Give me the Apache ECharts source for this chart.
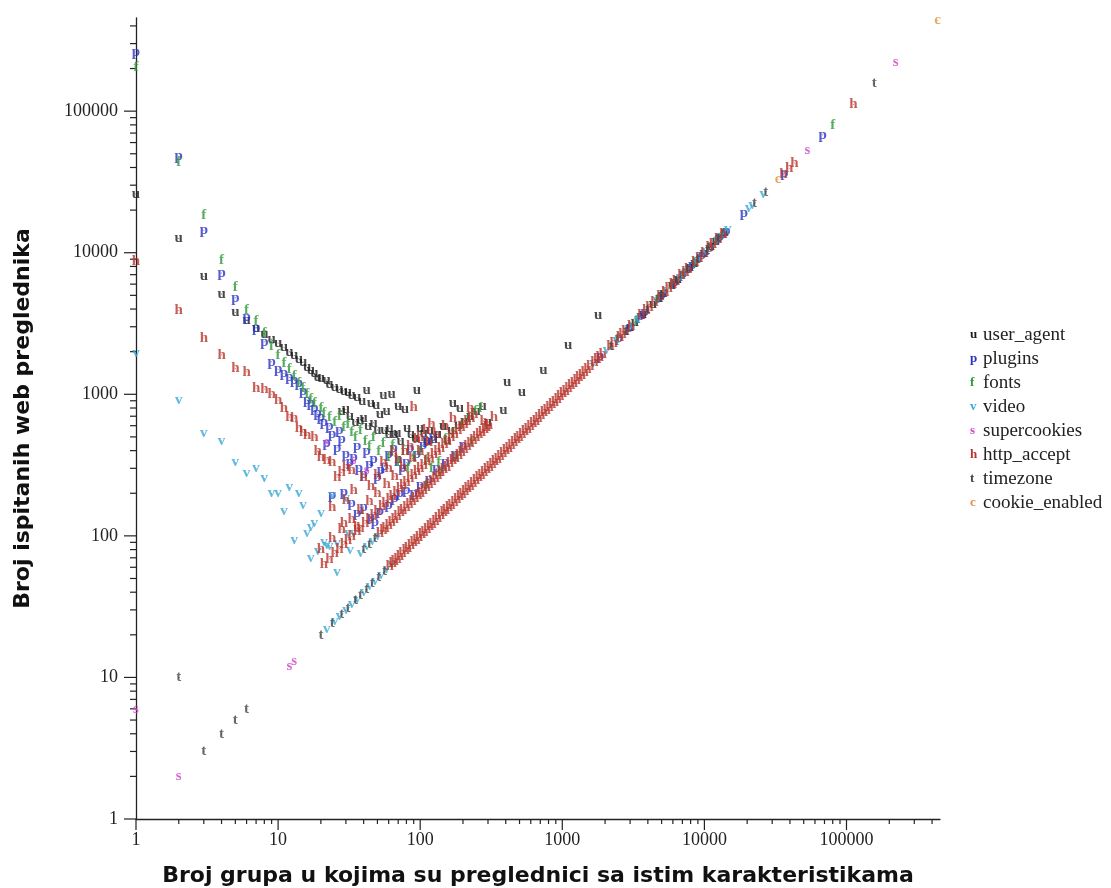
<!DOCTYPE html>
<html><head><meta charset="utf-8">
<script src="https://cdn.jsdelivr.net/npm/echarts@6/dist/echarts.min.js"></script>
<style>html,body{margin:0;padding:0;background:#fff}#c{width:1111px;height:888px}</style>
</head><body><div id="c"></div>
<script>
const seriesNames = ['user_agent','plugins','fonts','video','supercookies','http_accept','timezone','cookie_enabled'];
const letters = ['u','p','f','v','s','h','t','c'];
const colors = ['#1c1c1c','#2b33c4','#2f9a3a','#3aa8d6','#d048c8','#b8352c','#454545','#e0913f'];
const tickLabels = ['1','10','100','1000','10000','100000'];
const xTitle = 'Broj grupa u kojima su preglednici sa istim karakteristikama';
const yTitle = 'Broj ispitanih web preglednika';

const userAgent = [[1,26000],[2,12600],[3,6800],[4,5100],[5,3800],[6,3350],[7,2950],[8,2650],[9,2450],[10,2300],[11,2150],[12,2000],[13,1880],[14,1780],[15,1690],[16,1560],[17,1470],[18,1400],[19,1330],[20,1300],[22,1260],[23,1180],[25,1130],[27,1080],[29,1060],[31,1040],[33,990],[36,950],[39,900],[42,1070],[45,860],[49,840],[55,990],[58,760],[63,1000],[70,820],[78,780],[95,1070],[170,870],[190,800],
[28,760],[30,780],[32,700],[35,640],[38,660],[40,680],[43,600],[47,630],[50,560],[52,730],[56,560],[60,520],[61,575],[66,520],[69,530],[73,470],[81,575],[86,520],[92,490],[100,580],[106,530],[112,470],[117,560],[125,480],[133,520],[145,600],[155,475],[165,560],[185,610],[205,650],[225,700],[250,760],[275,820],
[300,640],[385,775],[410,1220],[520,1035],[735,1480],[1100,2220],[1790,3630],
[3000,3000],[3250,3250],[3700,3700],[4350,4350],[4800,4800],[5150,5150],[5900,5900],[6500,6500],[7900,7900],[8500,8500],[9900,9900],[11100,11100],[12000,12000],[13900,13900]];

const plugins = [[1,262000],[2,48000],[3,14400],[4,7200],[5,4800],[6,3500],[7,2950],[8,2350],[9,1700],[10,1500],[11,1400],[12,1320],[13,1250],[14,1200],[15,1060],[16,910],[17,860],[18,800],[19,740],[20,690],[21,640],[22,450],[23,600],[24,520],[26,420],[27,560],[28,480],[30,380],[32,330],[34,360],[36,430],[37,300],[40,275],[42,400],[44,320],[47,350],[50,260],[53,290],[56,310],[60,380],[65,420],[70,350],[75,300],[80,330],[85,420],[95,380],[105,440],[111,475],[123,500],
[24,195],[29,205],[33,170],[36,145],[40,160],[45,135],[48,125],[52,150],[60,165],[66,185],[72,200],[80,210],
[90,200],[100,230],[115,250],[130,300],[150,330],[175,380],[200,440],
[1850,1850],[2500,2500],[2950,2950],[3550,3550],[3800,3800],[5000,5000],[6200,6200],[7050,7050],[8200,8200],[9600,9600],[10800,10800],[12800,12800],[14300,14300],[19000,19000],[36500,36500],[68000,68000]];

const fonts = [[1,205000],[2,44000],[3,18500],[4,8900],[5,5700],[6,3900],[7,3300],[8,2700],[9,2200],[10,1900],[11,1650],[12,1500],[13,1350],[14,1200],[15,1100],[16,1000],[17,930],[18,870],[20,800],[21,740],[23,690],[25,640],[27,700],[29,590],[31,620],[33,540],[35,500],[38,560],[41,470],[44,430],[47,500],[51,400],[55,450],[60,360],[64,440],[70,330],[76,400],[82,300],[90,360],[100,400],[110,340],[120,300],[135,330],
[150,480],[170,530],[195,610],[220,680],[245,760],[265,800],
[110,230],[140,280],[180,360],[230,460],
[2450,2450],[3300,3300],[4700,4700],[5900,5900],[7000,7000],[8500,8500],[10500,10500],[12000,12000],[13300,13300],[80000,80000]];

const video = [[1,1950],[2,910],[3,530],[4,470],[5,330],[6,277],[7,300],[8,255],[9,200],[10,200],[11,150],[12,220],[13,93],[14,200],[15,165],[16,105],[17,115],[18,123],[20,145],[21,90],[23,85],[24,195],[26,89],[30,185],[31,105],
[17,70],[19,78],[22,86],[26,55],
[32,79],[34,104],[38,76],[42,84],[46,92],[50,100],
[22,22],[25,25],[27,27],[30,30],[33,33],[36,36],[40,40],[44,44],[48,48],[53,53],[58,58],[63,63],[1650,1650],[2050,2050],[2400,2400],[3100,3100],[3400,3400],[4600,4600],[5400,5400],[6700,6700],[7400,7400],[8800,8800],[9300,9300],[10200,10200],[11300,11300],[12200,12200],[13000,13000],[14600,14600],[20500,20500],[21700,21700],[26000,26000]];

const supercookies = [[1,6],[2,2],[12,12],[13,13],[22,462],[34,340],[42,290],[53000,53000],[222000,222000]];

const httpAccept = [[1,8700],[2,3900],[3,2500],[4,1900],[5,1530],[6,1440],[7,1110],[8,1090],[9,1000],[10,910],[11,800],[12,690],[13,680],[14,580],[15,540],[16,515],[18,500],[19,400],[20,360],[22,345],[24,330],[26,260],[28,280],[30,305],[33,290],[29,123],[36,115],
[90,810],[225,800],[330,690],[280,650],
[24,160],[30,180],[34,210],[40,260],[45,225],[50,270],[55,330],[60,300],[65,390],[70,350],[78,400],[85,430],[95,480],[100,500],[110,560],[120,620],
[20,80],[24,96],[28,112],[33,132],[38,152],[44,176],[50,200],[58,232],[66,264],[76,304],[88,352],[100,400],[115,460],[130,520],[150,600],[170,680],
[21,63],[23,69],[25,75],[27,81],[29,87],[31,93],[33,99],[36,108],[38,114],[41,123],[44,132],[47,141],[50,150],[54,162],[57,171],[61,183],[64,192],[68,204],[72,216],[76,228],[80,240],[85,255],[90,270],[95,285],[100,300],[106,318],[112,336],[118,354],[125,375],[132,396],[140,420],[148,444],[156,468],[165,495],[175,525],[185,555],[195,585],[205,615],[215,645],[228,684],[240,720],
[52,104],[55,110],[57,114],[60,120],[63,126],[66,132],[69,138],[73,146],[76,152],[80,160],[84,168],[88,176],[92,184],[97,194],[101,202],[106,212],[111,222],[116,232],[122,244],[128,256],[134,268],[140,280],[147,294],[154,308],[162,324],[170,340],[178,356],[187,374],[196,392],[205,410],[215,430],[226,452],[237,474],[248,496],[260,520],[272,544],[285,570],[295,590],[305,610],
[61,61],[64,64],[66,66],[69,69],[72,72],[75,75],[79,79],[82,82],[86,86],[90,90],[94,94],[98,98],[103,103],[107,107],[112,112],[117,117],[122,122],[128,128],[133,133],[140,140],[146,146],[152,152],[159,159],[166,166],[174,174],[182,182],[190,190],[198,198],[207,207],[216,216],[226,226],[236,236],[247,247],[258,258],[270,270],[282,282],[295,295],[308,308],[322,322],[336,336],[351,351],[367,367],[384,384],[401,401],[419,419],[438,438],[458,458],[479,479],[500,500],[522,522],[546,546],[570,570],[596,596],[623,623],[651,651],[680,680],[711,711],[743,743],[776,776],[811,811],[848,848],[886,886],[926,926],[968,968],[1011,1011],[1057,1057],[1104,1104],[1154,1154],[1206,1206],[1260,1260],[1317,1317],[1376,1376],[1438,1438],[1503,1503],[1570,1570],[1680,1680],[1760,1760],[1830,1830],[1920,1920],[2180,2180],[2300,2300],[2540,2540],[2650,2650],[2780,2780],[3050,3050],[3600,3600],[3900,3900],[4100,4100],[4450,4450],[4900,4900],[5300,5300],[5600,5600],[6000,6000],[6300,6300],[6900,6900],[7350,7350],[7700,7700],[8600,8600],[9200,9200],[10000,10000],[10900,10900],[11500,11500],[12500,12500],[13600,13600],
[36000,36000],[39500,39500],[43000,43000],[112000,112000]];

const timezone = [[2,10],[3,3],[4,4],[5,5],[6,6],[20,20],[24,24],[28,28],[31,31],[35,35],[38,38],[42,42],[46,46],[51,51],[56,56],[40,80],[44,88],[48,96],[2200,2200],[2800,2800],[4000,4000],[5000,5000],[6400,6400],[7600,7600],[9000,9000],[10500,10500],[12600,12600],[22500,22500],[27000,27000],[157000,157000]];

const cookieEnabled = [[33000,33000],[437000,437000]];

const allData = [userAgent, plugins, fonts, video, supercookies, httpAccept, timezone, cookieEnabled];

const AX_MIN = 1, AX_MAX = 455000;
function fmt(v){ const e = Math.log10(v); const r = Math.round(e); return (Math.abs(e-r) < 1e-6 && r < tickLabels.length) ? tickLabels[r] : ''; }

const chart = echarts.init(document.getElementById('c'), null, {renderer:'canvas'});
const rich = {};
letters.forEach((l,i)=>{ rich[l] = {color: colors[i], fontFamily:'Liberation Serif', fontSize:13, fontWeight:'bold', width:13, lineHeight:20}; });
rich.n = {color:'#222', fontFamily:'Liberation Serif', fontSize:19, lineHeight:20};

const axisCommon = {
  type:'log', logBase:10, min:AX_MIN, max:AX_MAX,
  axisLine:{show:true, lineStyle:{color:'#222', width:1.3}},
  axisTick:{show:false}, minorTick:{show:false}, splitLine:{show:false}, minorSplitLine:{show:false},
  nameLocation:'middle',
  nameTextStyle:{fontFamily:'DejaVu Sans', fontWeight:'bold', fontSize:22, color:'#111'}
};

chart.setOption({
  animation:false,
  backgroundColor:'#fff',
  grid:{left:136, top:18, right:171, bottom:69, containLabel:false, outerBoundsMode:'none'},
  xAxis: Object.assign({}, axisCommon, {
    name:xTitle, nameGap:46,
    axisLabel:{formatter:fmt, fontFamily:'Liberation Serif', fontSize:18, color:'#222', margin:12}
  }),
  yAxis: Object.assign({}, axisCommon, {
    name:yTitle, nameGap:102, nameRotate:90,
    axisLabel:{formatter:fmt, fontFamily:'Liberation Serif', fontSize:18, color:'#222', margin:18}
  }),
  legend:{
    orient:'vertical', left:960, top:320, itemWidth:0, itemHeight:20, itemGap:4,
    icon:'rect', selectedMode:false, padding:5,
    data: seriesNames,
    formatter: name => { const l = letters[seriesNames.indexOf(name)]; return '{'+l+'|'+l+'}{n|'+name+'}'; },
    textStyle:{fontFamily:'Liberation Serif', fontSize:19, color:'#222', lineHeight:20, rich:rich}
  },
  series: seriesNames.map((nm,i)=>({
    name:nm, type:'scatter', data:allData[i],
    symbol:'circle', symbolSize:1,
    itemStyle:{color:colors[i]},
    label:{show:true, position:'inside', formatter:letters[i], color:colors[i],
      fontFamily:'Liberation Serif', fontSize:15, fontWeight:'bold'},
    emphasis:{disabled:true},
    clip:false
  }))
});

// tick marks (major at powers of 10, minor at 2..9) placed through the axis scales
const x0 = chart.convertToPixel({xAxisIndex:0}, AX_MIN);
const y0 = chart.convertToPixel({yAxisIndex:0}, AX_MIN);
const els = [];
for (let d = 0; d <= 5; d++) {
  for (let m = 1; m <= 9; m++) {
    const v = m * Math.pow(10, d);
    if (v > AX_MAX) break;
    const major = m === 1;
    const px = chart.convertToPixel({xAxisIndex:0}, v);
    const py = chart.convertToPixel({yAxisIndex:0}, v);
    els.push({type:'line', silent:true, shape:{x1:px, y1:y0, x2:px, y2:y0 + (major ? 11 : 5)}, style:{stroke:'#222', lineWidth:1.2}});
    els.push({type:'line', silent:true, shape:{x1:x0 - (major ? 12 : 6), y1:py, x2:x0 + 1, y2:py}, style:{stroke:'#222', lineWidth:1.2}});
  }
}
chart.setOption({graphic:{elements:els}});
</script>
</body></html>
